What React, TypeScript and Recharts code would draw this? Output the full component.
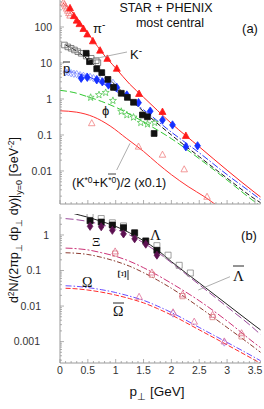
import React from 'react'
import { ComposedChart, Line, Scatter, XAxis, YAxis } from 'recharts'

// ---------- panel (a) : model curves ----------
const piCurvePt = [0.05, 0.2, 0.42, 0.6, 0.75, 1.0, 1.25, 1.5, 1.75, 2.0, 2.5, 3.0, 3.5, 3.6]
const piCurve = [468, 282, 100, 41.7, 20, 7.2, 2.6, 1.12, 0.48, 0.21, 0.047, 0.0105, 0.0025, 0.0019]

const modelPt = [0.1, 0.3, 0.5, 0.75, 1.0, 1.25, 1.5, 2.0, 2.5, 3.0, 3.5, 3.6]
const kCurve = [31.6, 21.4, 12.6, 5.6, 2.4, 1.0, 0.45, 0.1, 0.025, 0.0063, 0.00166, 0.00132]
const pbarCurve = [6.0, 5.2, 4.2, 2.8, 1.66, 0.95, 0.5, 0.12, 0.032, 0.0079, 0.0021, 0.0016]

const phiCurvePt = [0, 0.25, 0.5, 0.75, 1.0, 1.25, 1.5, 2.0, 2.5, 3.0, 3.5, 3.6]
const phiCurve = [1.74, 1.51, 1.15, 0.85, 0.59, 0.38, 0.23, 0.079, 0.022, 0.0056, 0.00138, 0.00107]

const kstarCurvePt = [0, 0.3, 0.6, 0.9, 1.2, 1.5, 1.75, 2.0, 2.3, 2.6, 2.9, 3.1]
const kstarCurve = [0.47, 0.43, 0.32, 0.178, 0.079, 0.035, 0.0162, 0.0079, 0.0037, 0.0019, 0.00089, 0.00056]

// ---------- panel (a) : data ----------
const piPhenixPt = [0.18, 0.25, 0.3, 0.35, 0.42, 0.49, 0.59, 0.72, 0.85, 1.02, 1.42, 1.84, 2.26]
const piPhenix = [330, 200, 150, 120, 88, 62, 40, 22, 13, 6.9, 1.38, 0.435, 0.094]
const piStarPt = [0.06, 0.08, 0.1, 0.12, 0.14, 0.16, 0.18]
const piStar = [470, 420, 370, 320, 280, 240, 205]

const kStarPt = [0.08, 0.14, 0.2, 0.26, 0.32, 0.38, 0.47, 0.56, 0.65, 0.68]
const kStar = [31.6, 28, 25.6, 23, 20.6, 18.6, 15.6, 13.5, 11.6, 10.2]
const kPhenixPt = [0.47, 0.53, 0.66, 0.75, 0.86, 0.96, 1.1, 1.21, 1.32, 1.48, 1.57, 1.69]
const kPhenix = [18.6, 10.9, 6.9, 5.4, 3.5, 2.1, 1.44, 1.11, 0.81, 0.36, 0.32, 0.11]

const pbarStarPt = [0.1, 0.15, 0.2, 0.25, 0.3, 0.36, 0.42, 0.48, 0.54, 0.6, 0.66, 0.72, 0.8, 0.88, 0.95]
const pbarStar = [5.6, 5.5, 5.2, 5.0, 4.9, 4.6, 4.4, 4.2, 4.1, 3.8, 3.6, 3.4, 3.1, 2.9, 2.8]
const pbarPhenixPt = [0.38, 0.49, 0.66, 0.76, 0.87, 1.02, 1.2, 1.41, 1.62, 1.84, 2.02, 2.26, 2.47]
const pbarPhenix = [3.76, 4.0, 3.4, 3.0, 2.45, 2.1, 1.29, 0.79, 0.46, 0.26, 0.19, 0.047, 0.05]

const phiPt = [0.55, 0.7, 0.82, 0.95, 1.1, 1.2, 1.32, 1.45, 1.57, 1.7]
const phi = [1.1, 1.3, 1.5, 0.9, 0.45, 0.36, 0.31, 0.22, 0.2, 0.22]

const kstarPt = [0.57, 1.41, 1.84, 2.23, 2.64]
const kstar = [0.21, 0.047, 0.028, 0.011, 0.0019]

// ---------- panel (b) : model curves ----------
const hypPt = [0.1, 0.25, 0.5, 0.75, 1.0, 1.25, 1.5, 1.75, 2.0, 2.5, 3.0, 3.5, 3.6]
const lambdaCurve = [4.8, 4.0, 3.16, 2.4, 1.74, 1.15, 0.69, 0.38, 0.178, 0.0447, 0.0112, 0.0028, 0.00214]
const lambdaBarCurve = [2.88, 2.75, 2.4, 1.95, 1.45, 1.0, 0.6, 0.33, 0.166, 0.04, 0.0095, 0.0022, 0.00158]
const xiCurve = [0.427, 0.417, 0.38, 0.316, 0.251, 0.182, 0.12, 0.074, 0.0437, 0.0141, 0.0038, 0.00089, 0.00068]
const xiBarCurve = [0.316, 0.309, 0.282, 0.234, 0.182, 0.132, 0.087, 0.0537, 0.0316, 0.0093, 0.0025, 0.00066, 0.0005]
const omegaCurve = [0.0372, 0.0363, 0.0331, 0.0288, 0.024, 0.019, 0.0145, 0.01, 0.0066, 0.0025, 0.00095, 0.000355, 0.00029]
const omegaBarCurve = [0.0316, 0.0309, 0.0282, 0.0245, 0.0204, 0.0162, 0.0123, 0.0085, 0.0056, 0.00214, 0.00081, 0.0003, 0.000245]

// ---------- panel (b) : data ----------
const lamPt = [0.54, 0.74, 0.94, 1.14, 1.34, 1.54, 1.74]
const lam = [2.5, 2.3, 1.9, 1.6, 1.15, 0.68, 0.37]
const lamBarPt = [0.54, 0.74, 0.94, 1.14, 1.74, 1.94, 2.14, 2.34]
const lamBar = [3.8, 2.9, 2.2, 1.8, 0.5, 0.27, 0.14, 0.085]
const diaPt = [0.54, 0.74, 0.94, 1.14, 1.34, 1.54, 1.74]
const dia = [1.75, 1.7, 1.35, 1.07, 0.78, 0.55, 0.27]
const xiPt = [0.99, 1.65, 2.2, 2.74, 3.26]
const xi = [0.34, 0.087, 0.021, 0.0056, 0.0017]
const xiBar = [0.3, 0.076, 0.019, 0.0049, 0.0014]
const omPt = [1.42, 2.03, 2.41, 2.95]
const om = [0.018, 0.0066, 0.0036, 0.001]
const omBarPt = [2.03, 2.95]
const omBar = [0.0062, 0.00095]

const aLabels = ['0.01', '0.1', '1', '10', '100']
const aLabelGap = [8, 8, 8, 8, 8]
const bLabels = ['0.001', '0.01', '0.1', '1']
const bLabelGap = [20, 19, 19, 11]
const xLabels = ['0', '0.5', '1', '1.5', '2', '2.5', '3', '3.5']

const zip = (xs: number[], ys: number[]) => xs.map((x, i) => ({ x, y: ys[i] }))

const logTicks = (lo: number, hi: number) => {
  const out: number[] = []
  for (let e = lo; e <= hi; e++) for (let m = 1; m < 10; m++) out.push(m * Math.pow(10, e))
  return out
}
const xTicks = Array.from({ length: 37 }, (_, i) => i / 10)

const AXIS = '#9a9a9a'
const FONT = '"Liberation Sans", Arial, sans-serif'
const SERIF = '"Liberation Serif", "DejaVu Serif", serif'

const mark = (kind: string, color: string, filled: boolean, r = 3.1, sw = 0.8) => (p: any) => {
  const cx = p.cx ?? 0
  const cy = p.cy ?? 0
  let d = ''
  if (kind === 'tri') d = `M${cx},${cy - r * 1.2}L${cx + r * 1.05},${cy + r * 0.75}L${cx - r * 1.05},${cy + r * 0.75}Z`
  else if (kind === 'sq') d = `M${cx - r},${cy - r}h${2 * r}v${2 * r}h${-2 * r}Z`
  else if (kind === 'dia') d = `M${cx},${cy - r * 1.3}L${cx + r * 0.9},${cy}L${cx},${cy + r * 1.3}L${cx - r * 0.9},${cy}Z`
  else {
    const pts: string[] = []
    for (let i = 0; i < 10; i++) {
      const a = -Math.PI / 2 + (i * Math.PI) / 5
      const rr = i % 2 === 0 ? r * 1.2 : r * 0.5
      pts.push(`${cx + rr * Math.cos(a)},${cy + rr * Math.sin(a)}`)
    }
    d = `M${pts.join('L')}Z`
  }
  return <path d={d} fill={filled ? color : 'none'} stroke={color} strokeWidth={sw} />
}

const YTick = (p: any) => {
  const { x, y, payload, labels, gaps } = p
  const v = payload.value
  const idx = labels.findIndex((l: string) => Math.abs(Number(l) - v) / v < 1e-6)
  const major = idx >= 0
  return (
    <g>
      <line x1={x} x2={x + (major ? 4 : 2)} y1={y} y2={y} stroke={AXIS} strokeWidth={0.8} />
      {major && (
        <text x={x - gaps[idx]} y={y + 3.7} textAnchor="end" fontSize={10.5} fill="#333" fontFamily={FONT}>
          {labels[idx]}
        </text>
      )}
    </g>
  )
}

const XTick = (p: any) => {
  const { x, y, payload, show } = p
  const v = payload.value
  const idx = xLabels.findIndex((l) => Math.abs(Number(l) - v) < 1e-6)
  const major = idx >= 0
  return (
    <g>
      <line x1={x} x2={x} y1={y} y2={y - (major ? 4 : 2)} stroke={AXIS} strokeWidth={0.8} />
      {show && major && (
        <text x={x} y={y + 11} textAnchor="middle" fontSize={10.5} fill="#333" fontFamily={FONT}>
          {xLabels[idx]}
        </text>
      )}
    </g>
  )
}

const curve = (data: any[], color: string, dash?: string, w = 1) => (
  <Line
    data={data}
    dataKey="y"
    type="monotone"
    stroke={color}
    strokeWidth={w}
    strokeDasharray={dash}
    dot={false}
    activeDot={false}
    isAnimationActive={false}
  />
)

const points = (data: any[], shape: any) => (
  <Scatter data={data} dataKey="y" shape={shape} isAnimationActive={false} />
)

const PanelA = () => (
  <ComposedChart width={264} height={210} margin={{ top: 0, right: 3.5, bottom: 0, left: 0 }}>
    <XAxis
      dataKey="x"
      type="number"
      domain={[0, 3.6]}
      ticks={xTicks}
      interval={0}
      height={6}
      tickSize={0}
      tickMargin={0}
      axisLine={{ stroke: AXIS }}
      tick={(p: any) => <XTick {...p} show={false} />}
    />
    <YAxis
      type="number"
      scale="log"
      domain={[0.00121, 562]}
      allowDataOverflow
      ticks={logTicks(-3, 2).filter((t) => t >= 0.0012 && t <= 560)}
      interval={0}
      width={60}
      tickSize={0}
      tickMargin={0}
      axisLine={{ stroke: AXIS }}
      tick={(p: any) => <YTick {...p} labels={aLabels} gaps={aLabelGap} />}
    />
    {curve(zip(kstarCurvePt, kstarCurve), '#ff3030')}
    {curve(zip(phiCurvePt, phiCurve), '#30c830', '7 3')}
    {curve(zip(modelPt, kCurve), '#1a1a1a', '5 2.5')}
    {curve(zip(modelPt, pbarCurve), '#2b3bff', '7 2 1.5 2')}
    {curve(zip(piCurvePt, piCurve), '#ff2020')}
    {points(zip(kstarPt, kstar), mark('tri', '#f08080', false))}
    {points(zip(phiPt, phi), mark('star', '#55c855', false))}
    {points(zip(pbarStarPt, pbarStar), mark('dia', '#7080ff', false, 2.8, 0.7))}
    {points(zip(kStarPt, kStar), mark('sq', '#666', false, 2.8, 0.8))}
    {points(zip(piStarPt, piStar), mark('tri', '#f07a7a', false, 3.1, 0.8))}
    {points(zip(pbarPhenixPt, pbarPhenix), mark('dia', '#1530ff', true, 3.2))}
    {points(zip(kPhenixPt, kPhenix), mark('sq', '#111', true, 2.9))}
    {points(zip(piPhenixPt, piPhenix), mark('tri', '#ff1a1a', true, 3.3))}
  </ComposedChart>
)

const PanelB = () => (
  <ComposedChart width={264} height={199} margin={{ top: 4, right: 3.5, bottom: 0, left: 0 }}>
    <XAxis
      dataKey="x"
      type="number"
      domain={[0, 3.6]}
      ticks={xTicks}
      interval={0}
      height={46}
      tickSize={0}
      tickMargin={0}
      axisLine={{ stroke: AXIS }}
      tick={(p: any) => <XTick {...p} show={true} />}
    />
    <YAxis
      type="number"
      scale="log"
      domain={[0.00025, 3.89]}
      allowDataOverflow
      ticks={logTicks(-4, 0).filter((t) => t >= 0.00025 && t <= 3.8)}
      interval={0}
      width={60}
      tickSize={0}
      tickMargin={0}
      axisLine={{ stroke: AXIS }}
      tick={(p: any) => <YTick {...p} labels={bLabels} gaps={bLabelGap} />}
    />
    {curve(zip(hypPt, omegaBarCurve), '#ff2a2a', '5 2')}
    {curve(zip(hypPt, omegaCurve), '#6a4dff', '6 2 1.5 2')}
    {curve(zip(hypPt, xiBarCurve), '#8b3a2f', '5 2 1.5 2')}
    {curve(zip(hypPt, xiCurve), '#cc3377', '7 2 2 2')}
    {curve(zip(hypPt, lambdaBarCurve), '#9b4a9b', '8 3')}
    {curve(zip(hypPt, lambdaCurve), '#222')}
    {points(zip(omBarPt, omBar), mark('dia', '#9a80e6', false, 2.9))}
    {points(zip(omPt, om), mark('tri', '#e0709a', false, 3.1))}
    {points(zip(xiPt, xiBar), mark('sq', '#d98080', false, 2.6))}
    {points(zip(xiPt, xi), mark('tri', '#e0708c', false, 3.1))}
    {points(zip(lamBarPt, lamBar), mark('sq', '#888', false, 3))}
    {points(zip(lamPt, lam), mark('sq', '#111', true, 3))}
    {points(zip(diaPt, dia), mark('dia', '#5c1050', true, 3.1))}
  </ComposedChart>
)

const Overlay = () => (
  <svg width={264} height={409} style={{ position: 'absolute', left: 0, top: 0, pointerEvents: 'none' }}>
    <g fontFamily={FONT} fill="#111">
      <text x={166} y={12} fontSize={12.5} textAnchor="middle">STAR + PHENIX</text>
      <text x={170} y={27} fontSize={12.5} textAnchor="middle">most central</text>
      <text x={250} y={33} fontSize={13} textAnchor="middle">(a)</text>
      <text x={249} y={240} fontSize={13} textAnchor="middle">(b)</text>
      <text x={93} y={33} fontSize={13}>
        π<tspan dy={-5} fontSize={10}>-</tspan>
      </text>
      <text x={130} y={59} fontSize={13}>
        K<tspan dy={-5} fontSize={10}>-</tspan>
      </text>
      <text x={63} y={73} fontSize={13}>p</text>
      <line x1={63} x2={70} y1={62} y2={62} stroke="#111" strokeWidth={0.9} />
      <text x={102} y={115} fontSize={13}>ϕ</text>
      <text x={72} y={187} fontSize={12.5}>
        (K<tspan dy={-4} fontSize={8.5}>*0</tspan>
        <tspan dy={4}>+K</tspan>
        <tspan dy={-4} fontSize={8.5}>*0</tspan>
        <tspan dy={4}>)/2 (x0.1)</tspan>
      </text>
      <line x1={108} x2={116} y1={174} y2={174} stroke="#111" strokeWidth={0.8} />
      <text x={157} y={396} fontSize={13.5} textAnchor="middle">
        p<tspan dy={4} fontSize={10}>⊥</tspan>
        <tspan dy={-4}>  [GeV]</tspan>
      </text>
      <text transform="translate(18,220) rotate(-90)" fontSize={12.5} textAnchor="middle">
        d<tspan dy={-4} fontSize={8.5}>2</tspan>
        <tspan dy={4}>N/(2πp</tspan>
        <tspan dy={4} fontSize={9}>⊥</tspan>
        <tspan dy={-4}> dp</tspan>
        <tspan dy={4} fontSize={9}>⊥</tspan>
        <tspan dy={-4}> dy)|</tspan>
        <tspan dy={4} fontSize={9}>y=0</tspan>
        <tspan dy={-4}>  [GeV</tspan>
        <tspan dy={-4} fontSize={8.5}>-2</tspan>
        <tspan dy={4}>]</tspan>
      </text>
    </g>
    <g fontFamily={SERIF} fill="#111">
      <text x={150} y={240} fontSize={15}>Λ</text>
      <text x={233} y={281} fontSize={15}>Λ</text>
      <line x1={233} x2={244} y1={266} y2={266} stroke="#111" strokeWidth={0.9} />
      <text x={92} y={246} fontSize={13}>Ξ</text>
      <text transform="translate(118,270) rotate(90)" fontSize={13}>Ξ</text>
      <line x1={128} x2={128} y1={270} y2={280} stroke="#111" strokeWidth={0.9} />
      <text x={82} y={287} fontSize={14}>Ω</text>
      <text x={113} y={316} fontSize={14}>Ω</text>
      <line x1={113} x2={124} y1={303} y2={303} stroke="#111" strokeWidth={0.9} />
    </g>
    <g stroke="#999" strokeWidth={0.8}>
      <line x1={88} y1={60} x2={127} y2={52} />
      <line x1={116.7} y1={170} x2={130} y2={143.3} />
      <line x1={230} y1={276.7} x2={198.3} y2={290} />
    </g>
  </svg>
)

export default function App() {
  return (
    <div style={{ position: 'absolute', left: 0, top: 0, width: 264, height: 409, background: '#fff' }}>
      <div style={{ position: 'absolute', left: 0, top: 0 }}>
        <PanelA />
      </div>
      <div style={{ position: 'absolute', left: 0, top: 210 }}>
        <PanelB />
      </div>
      <Overlay />
    </div>
  )
}
